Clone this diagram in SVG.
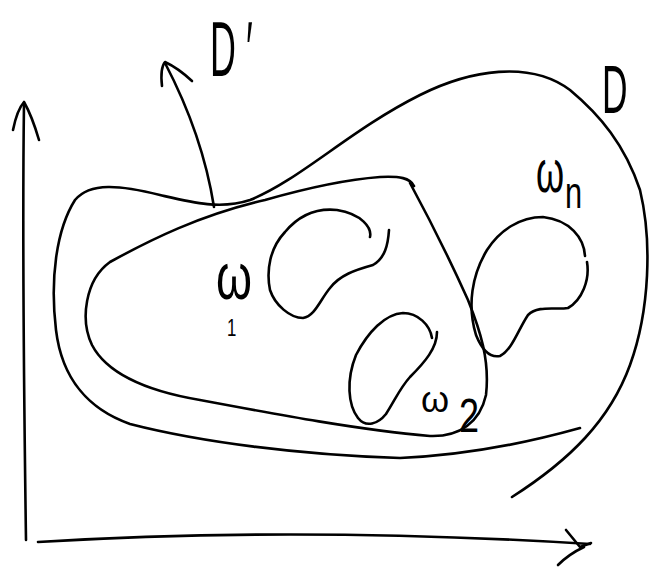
<svg xmlns="http://www.w3.org/2000/svg" width="664" height="569" viewBox="0 0 664 569">
<style>
.s{fill:none;stroke:#000;stroke-width:2.6;stroke-linecap:round;stroke-linejoin:round}
.t{font-family:"Liberation Sans","DejaVu Sans",sans-serif;fill:#000}
</style>
<rect width="664" height="569" fill="#fff"/>
<g id="connectors">
<g id="y-axis">
<path class="s" d="M26,540 C24,400 22,250 24,103"/>
<path class="s" d="M13,130 Q17,110 24,102 Q32,116 39,140"/>
</g>
<g id="x-axis">
<path class="s" d="M38,542 Q300,526 590,544"/>
<path class="s" d="M566,530 L580,547 L591,543 M584,547 Q569,554 558,565"/>
</g>
<g id="d-prime-arrow">
<path class="s" d="M214,207 C205,150 187,105 165,63"/>
<path class="s" d="M162,86 Q160,68 165,62 Q178,68 192,81"/>
</g>
</g>
<g id="D">
<path class="s" d="M580,428 C530,442 470,455 400,458 C300,455 200,442 130,424 C90,410 62,380 56,330 C50,280 56,230 75,200 C90,182 120,185 160,195 C190,202 220,210 250,200 C300,180 350,130 420,95 C470,70 530,60 570,90 C600,115 625,145 640,190 C652,240 650,310 630,365 C610,420 570,460 512,497"/>
<text class="t" transform="translate(602,113) scale(0.52,1)" font-size="68">D</text>
</g>
<g id="D-prime">
<path class="s" d="M414,186 C410,178 400,176 380,177 C340,180 300,190 265,200 C200,215 150,240 110,262 C85,280 80,320 92,345 C105,370 140,390 200,400 C280,415 360,430 430,436 C460,437 480,422 486,395 C490,360 480,330 468,300 C450,260 430,220 410,183"/>
<text class="t" transform="translate(210,76) scale(0.46,1)" font-size="78">D<tspan dx="22">′</tspan></text>
</g>
<g id="omega1">
<path class="s" d="M370,237 C372,228 362,214 337,210 C318,208 300,214 285,232 C270,248 266,270 270,290 C275,305 290,318 303,318 C315,316 320,300 330,288 C340,275 355,270 373,265 C385,258 388,245 389,230"/>
<text class="t" transform="translate(216,299) scale(0.72,1)" font-size="64">ω</text>
<text class="t" transform="translate(227,336) scale(0.7,1)" font-size="24">1</text>
</g>
<g id="omega2">
<path class="s" d="M432,338 C430,325 418,313 403,313 C385,314 368,332 356,355 C346,380 348,405 358,418 C366,428 378,424 386,414 C395,400 400,388 410,377 C425,362 437,348 437,332"/>
<text class="t" x="421" y="412" font-size="36">ω</text>
<text class="t" transform="translate(459,432) scale(0.75,1)" font-size="48">2</text>
</g>
<g id="omega-n">
<path class="s" d="M585,256 C584,238 570,220 543,217 C520,217 500,230 487,250 C472,275 467,305 476,335 C482,350 490,358 500,356 C512,350 518,330 528,315 C538,305 555,310 568,308 C582,300 590,280 587,262"/>
<text class="t" transform="translate(536,192) scale(0.6,1)" font-size="60">ω</text>
<text class="t" transform="translate(565,208) scale(0.7,1)" font-size="44">n</text>
</g>
</svg>
